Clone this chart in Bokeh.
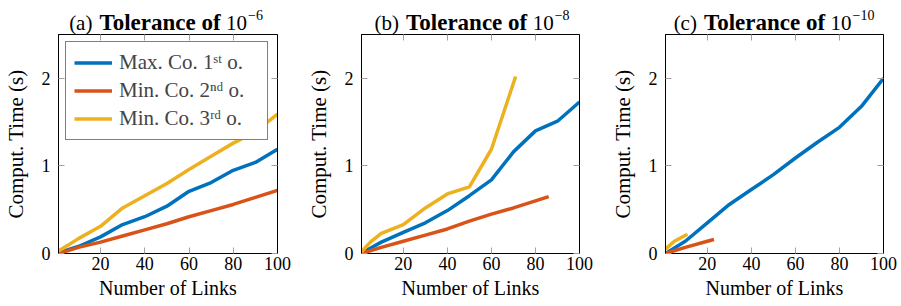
from bokeh.plotting import figure
from bokeh.layouts import row, column
from bokeh.models import FixedTicker, LinearAxis
from bokeh.core.properties import value
from bokeh.embed import file_html
from bokeh.resources import INLINE

# ---------------- data ----------------
series_names = ["Max. Co. 1ˢᵗ o.", "Min. Co. 2ⁿᵈ o.", "Min. Co. 3ʳᵈ o."]
series_colors = ["#0072BD", "#D95319", "#EDB120"]

x_full = [1, 5, 10, 20, 30, 40, 50, 60, 70, 80, 90, 100]

# (a) tolerance 1e-6
a_blue_x = x_full
a_blue_y = [0.0, 0.04, 0.08, 0.19, 0.33, 0.42, 0.54, 0.71, 0.81, 0.95, 1.04, 1.19]
a_orange_x = x_full
a_orange_y = [0.0, 0.03, 0.07, 0.13, 0.20, 0.27, 0.34, 0.42, 0.49, 0.56, 0.64, 0.72]
a_yellow_x = x_full
a_yellow_y = [0.03, 0.09, 0.17, 0.31, 0.52, 0.66, 0.80, 0.96, 1.11, 1.26, 1.39, 1.59]

# (b) tolerance 1e-8
b_blue_x = x_full
b_blue_y = [0.0, 0.06, 0.13, 0.24, 0.35, 0.49, 0.66, 0.84, 1.16, 1.40, 1.51, 1.73]
b_orange_x = [1, 10, 20, 30, 40, 50, 60, 70, 80, 86]
b_orange_y = [0.0, 0.07, 0.14, 0.21, 0.28, 0.37, 0.45, 0.52, 0.60, 0.65]
b_yellow_x = [1, 5, 10, 20, 30, 40, 50, 60, 71]
b_yellow_y = [0.02, 0.13, 0.23, 0.33, 0.52, 0.68, 0.76, 1.19, 2.02]

# (c) tolerance 1e-10
c_blue_x = [1, 10, 20, 30, 40, 50, 60, 70, 80, 90, 100]
c_blue_y = [0.0, 0.14, 0.35, 0.56, 0.73, 0.90, 1.09, 1.27, 1.44, 1.68, 2.0]
c_orange_x = [1, 10, 20, 23]
c_orange_y = [0.0, 0.07, 0.14, 0.16]
c_yellow_x = [1, 5, 11]
c_yellow_y = [0.05, 0.14, 0.22]

x_ticks = [20, 40, 60, 80, 100]
y_ticks = [0, 1, 2]
x_label = "Number of Links"
y_label = "Comput. Time (s)"

panel_tags = ["(a)", "(b)", "(c)"]
panel_bold = ["Tolerance of", "Tolerance of", "Tolerance of"]
panel_base = ["10", "10", "10"]
panel_exps = ["−6", "−8", "−10"]

panels = [
    ([a_blue_x, a_orange_x, a_yellow_x], [a_blue_y, a_orange_y, a_yellow_y]),
    ([b_blue_x, b_orange_x, b_yellow_x], [b_blue_y, b_orange_y, b_yellow_y]),
    ([c_blue_x, c_orange_x, c_yellow_x], [c_blue_y, c_orange_y, c_yellow_y]),
]

# ---------------- layout / style ----------------
FONT = "Liberation Serif"
left_borders = [58, 58, 58]
frame_ws = [219, 218, 218]
right_borders = [26, 28, 18]
title_centers = [107, 110, 108]   # px from frame left
TITLE_H = 34
FH = 219
BOT_B = 52

TAG_FS, BOLD_FS, BASE_FS, SUP_FS = 21, 23, 21, 14
tag_em = [1.11, 1.17, 1.11]
bold_em = 5.2
base_em = 1.0
sup_em = [1.06, 1.06, 1.56]
GAP = 7

X0, X1, Y0, Y1 = 1, 100, 0, 2.5


def mirror_axis(ticks):
    return LinearAxis(ticker=FixedTicker(ticks=ticks), major_label_text_font_size="1px",
                      major_label_text_color=None, major_label_standoff=0,
                      major_tick_in=6, major_tick_out=0,
                      major_tick_line_color="#a0a0a0", minor_tick_line_color=None,
                      axis_line_color="black")


cols = []
for i, (xs, ys) in enumerate(panels):
    fw = frame_ws[i]

    # ---- title strip (same borders as the plot below) ----
    t = figure(frame_width=fw, frame_height=TITLE_H,
               x_range=(0, fw), y_range=(0, TITLE_H),
               min_border_left=left_borders[i], min_border_right=right_borders[i],
               min_border_top=0, min_border_bottom=0,
               x_axis_type=None, y_axis_type=None,
               output_backend="svg", toolbar_location=None)
    t.outline_line_color = None
    t.xgrid.visible = False
    t.ygrid.visible = False
    w_tag = tag_em[i] * TAG_FS
    w_bold = bold_em * BOLD_FS
    w_base = base_em * BASE_FS
    w_sup = sup_em[i] * SUP_FS
    total_t = w_tag + GAP + w_bold + GAP + w_base + w_sup
    x_start = max(1, title_centers[i] - total_t / 2)
    x_bold = x_start + w_tag + GAP
    x_base = x_bold + w_bold + GAP
    x_sup = x_base + w_base + 1
    base_y = 12
    t.text(x=[x_start], y=[base_y], text=[panel_tags[i]], text_font=value(FONT),
           text_font_size=f"{TAG_FS}px", text_baseline="alphabetic", text_align="left",
           text_color="black")
    t.text(x=[x_bold], y=[base_y], text=[panel_bold[i]], text_font=value(FONT),
           text_font_size=f"{BOLD_FS}px", text_font_style="bold",
           text_baseline="alphabetic", text_align="left", text_color="black")
    t.text(x=[x_base], y=[base_y], text=[panel_base[i]], text_font=value(FONT),
           text_font_size=f"{BASE_FS}px", text_baseline="alphabetic", text_align="left",
           text_color="black")
    t.text(x=[x_sup], y=[base_y + 8], text=[panel_exps[i]], text_font=value(FONT),
           text_font_size=f"{SUP_FS}px", text_baseline="alphabetic", text_align="left",
           text_color="black")

    # ---- main plot ----
    p = figure(frame_width=fw, frame_height=FH,
               x_range=(X0, X1), y_range=(Y0, Y1),
               min_border_left=left_borders[i], min_border_right=right_borders[i],
               min_border_top=0, min_border_bottom=BOT_B,
               output_backend="svg", toolbar_location=None)
    p.outline_line_color = "black"
    p.outline_line_width = 1
    p.xgrid.visible = False
    p.ygrid.visible = False

    for ax, ticks, lab in ((p.xaxis[0], x_ticks, x_label), (p.yaxis[0], y_ticks, y_label)):
        ax.ticker = FixedTicker(ticks=ticks)
        ax.axis_label = lab
        ax.axis_label_text_font = FONT
        ax.axis_label_text_font_style = "normal"
        ax.axis_label_text_color = "black"
        ax.major_label_text_font = FONT
        ax.major_label_text_font_size = "18px"
        ax.major_label_text_color = "black"
        ax.major_tick_in = 6
        ax.major_tick_out = 0
        ax.major_tick_line_color = "#a0a0a0"
        ax.minor_tick_line_color = None
        ax.axis_line_color = "black"
    p.xaxis.axis_label_text_font_size = "20px"
    p.yaxis.axis_label_text_font_size = "21px"
    p.xaxis.major_label_standoff = 3
    p.xaxis.axis_label_standoff = 4
    p.yaxis.major_label_standoff = 8
    p.yaxis.axis_label_standoff = 11

    p.add_layout(mirror_axis(x_ticks), "above")
    p.add_layout(mirror_axis(y_ticks), "right")

    for k in range(3):
        kw = dict(line_width=3.5, color=series_colors[k], line_join="round")
        if i == 0:
            kw["legend_label"] = series_names[k]
        p.line(xs[k], ys[k], **kw)

    if i == 0:
        lg = p.legend[0]
        lg.location = "top_left"
        lg.margin = 7
        lg.padding = 8
        lg.spacing = 3
        lg.glyph_width = 38
        lg.glyph_height = 25
        lg.label_height = 25
        lg.label_width = 140
        lg.label_standoff = 7
        lg.label_text_font = FONT
        lg.label_text_font_size = "21px"
        lg.border_line_color = "black"
        lg.border_line_width = 1
        lg.background_fill_alpha = 1.0
    cols.append(column(t, p, spacing=0))

layout = row(*cols, spacing=0)
open("out.html", "w").write(file_html(layout, INLINE))
